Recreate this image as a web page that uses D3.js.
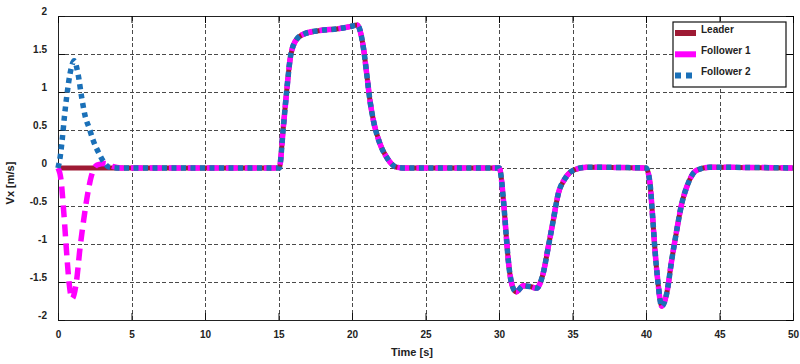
<!DOCTYPE html>
<html>
<head>
<meta charset="utf-8">
<script src="https://cdn.jsdelivr.net/npm/d3@7"></script>
<style>
    body { margin: 0; background: #fff; }
    svg text { font-family: "Liberation Sans", Arial, sans-serif; font-weight: bold; fill: #222; }
    .grid line { stroke: #4a4a4a; stroke-dasharray: 4,2.5; shape-rendering: crispEdges; }
    .grid path { display: none; }
</style>
</head>
<body>
<svg id="chart_1"></svg>
<script>
// data: [time s, vx m/s]
var xTicks = [0, 5, 10, 15, 20, 25, 30, 35, 40, 45, 50];
var yTicks = [2, 1.5, 1, 0.5, 0, -0.5, -1, -1.5, -2];
var seriesNames = ["Leader", "Follower 1", "Follower 2"];

var leader = [
    [0, 0], [15.05, 0], [15.33, 0.54], [15.56, 1.02], [15.78, 1.42], [16.12, 1.66],
    [16.69, 1.76], [17.82, 1.81], [18.96, 1.83], [19.86, 1.86], [20.36, 1.88],
    [20.77, 1.59], [21.0, 1.24], [21.22, 0.89], [21.45, 0.63], [21.9, 0.32],
    [22.36, 0.14], [23.04, 0.01], [23.6, 0], [30.02, 0], [30.3, -0.42], [30.48, -0.86],
    [30.63, -1.21], [30.86, -1.52], [31.16, -1.63], [31.65, -1.55], [32.1, -1.56],
    [32.56, -1.58], [33.0, -1.39], [33.35, -1.04], [33.69, -0.69], [34.03, -0.34],
    [34.49, -0.14], [35.06, -0.03], [35.96, 0.01], [40.0, 0], [40.27, -0.2],
    [40.45, -0.64], [40.61, -1.08], [40.8, -1.48], [41.07, -1.82], [41.41, -1.65],
    [41.75, -1.21], [42.09, -0.82], [42.43, -0.47], [42.77, -0.25], [43.45, -0.03],
    [44.35, 0.01], [50, 0]
];

var follower1Start = [
    [0, 0], [0.2, -0.15], [0.4, -0.6], [0.6, -1.15], [0.75, -1.5], [0.95, -1.72],
    [1.25, -1.5], [1.5, -1.05], [1.75, -0.68], [2.0, -0.36], [2.25, -0.12],
    [2.65, 0.04], [3.2, 0.06], [3.7, 0.02], [4.3, 0]
];

var follower2Start = [
    [0, 0], [0.15, 0.15], [0.3, 0.4], [0.45, 0.7], [0.6, 0.95], [0.8, 1.22],
    [1.1, 1.41], [1.36, 1.24], [1.61, 0.93], [1.84, 0.69], [2.13, 0.52],
    [2.4, 0.36], [2.74, 0.21], [3.08, 0.09], [3.5, 0.01], [4.3, 0]
];

// after the start-up both followers ride on the leader
var follower1 = follower1Start.concat(leader.filter(function (d) { return d[0] > 4.3; }));
var follower2 = follower2Start.concat(leader.filter(function (d) { return d[0] > 4.3; }));

var margin = {top: 16, right: 7, bottom: 44, left: 58},
    width = 800 - margin.left - margin.right,
    height = 364 - margin.top - margin.bottom;

var svg = d3.select("#chart_1")
    .attr("width", 800)
    .attr("height", 364);

var g = svg.append("g")
    .attr("transform", "translate(" + margin.left + "," + margin.top + ")");

var xScale = d3.scaleLinear().domain([0, 50]).range([0, width]);
var yScale = d3.scaleLinear().domain([-2, 2]).range([height, 0]);

// dashed grid
g.append("g")
    .attr("class", "grid")
    .attr("transform", "translate(0," + height + ")")
    .call(d3.axisBottom(xScale).tickValues(xTicks.slice(1, -1)).tickSize(-height).tickFormat(""));

g.append("g")
    .attr("class", "grid")
    .call(d3.axisLeft(yScale).tickValues(yTicks.slice(1, -1)).tickSize(-width).tickFormat(""));

// box
g.append("rect")
    .attr("width", width)
    .attr("height", height)
    .attr("fill", "none")
    .attr("stroke", "#222")
    .attr("stroke-width", 1)
    .attr("shape-rendering", "crispEdges");

// inward ticks + labels
var xAxis = g.append("g")
    .attr("transform", "translate(0," + height + ")")
    .call(d3.axisBottom(xScale).tickValues(xTicks).tickSize(-7).tickSizeOuter(0).tickPadding(11));
xAxis.select(".domain").remove();
xAxis.selectAll("text").style("font-size", "10px");
xAxis.selectAll("line").attr("stroke", "#111");

g.append("g")
    .call(d3.axisTop(xScale).tickValues(xTicks).tickSize(-7).tickFormat(""))
    .call(function (a) { a.select(".domain").remove(); });

var yAxis = g.append("g")
    .call(d3.axisLeft(yScale).tickValues(yTicks).tickSize(-7).tickSizeOuter(0).tickPadding(11)
        .tickFormat(function (d) { return d; }));
yAxis.select(".domain").remove();
yAxis.selectAll("text").style("font-size", "10px").attr("y", -5);
yAxis.selectAll("line").attr("stroke", "#111");

g.append("g")
    .attr("transform", "translate(" + width + ",0)")
    .call(d3.axisRight(yScale).tickValues(yTicks).tickSize(-7).tickFormat(""))
    .call(function (a) { a.select(".domain").remove(); });

// axis titles
svg.append("text")
    .attr("x", 412)
    .attr("y", 356)
    .attr("text-anchor", "middle")
    .style("font-size", "11px")
    .text("Time [s]");

svg.append("text")
    .attr("transform", "translate(14,183) rotate(-90)")
    .attr("text-anchor", "middle")
    .style("font-size", "11px")
    .text("Vx [m/s]");

// lines
var line = d3.line()
    .x(function (d) { return xScale(d[0]); })
    .y(function (d) { return yScale(d[1]); })
    .curve(d3.curveMonotoneX);

var styles = [
    {data: leader, color: "#9e1a34", w: 5, dash: null},
    {data: follower1, color: "#ff00ff", w: 5.5, dash: "12,7"},
    {data: follower2, color: "#1a70b8", w: 5.5, dash: "5,4.5"}
];

g.selectAll(".series")
    .data(styles)
    .enter()
    .append("path")
    .attr("class", "series")
    .attr("d", function (d) { return line(d.data); })
    .attr("fill", "none")
    .attr("stroke", function (d) { return d.color; })
    .attr("stroke-width", function (d) { return d.w; })
    .attr("stroke-dasharray", function (d) { return d.dash; });

// legend
var legend = svg.append("g")
    .attr("transform", "translate(673,22)");

legend.append("rect")
    .attr("width", 113)
    .attr("height", 65)
    .attr("fill", "#fff")
    .attr("stroke", "#111")
    .attr("stroke-width", 1.2);

var items = legend.selectAll(".item")
    .data(styles)
    .enter()
    .append("g")
    .attr("class", "item")
    .attr("transform", function (d, i) { return "translate(0," + (11 + i * 21.3) + ")"; });

items.append("line")
    .attr("x1", 2)
    .attr("x2", 23)
    .attr("y1", 0)
    .attr("y2", 0)
    .attr("stroke", function (d) { return d.color; })
    .attr("stroke-width", 6)
    .attr("stroke-dasharray", function (d, i) { return i === 2 ? "6,5" : null; });

items.append("text")
    .attr("x", 28)
    .attr("y", -0.5)
    .style("font-size", "10px")
    .text(function (d, i) { return seriesNames[i]; });
</script>
</body>
</html>
